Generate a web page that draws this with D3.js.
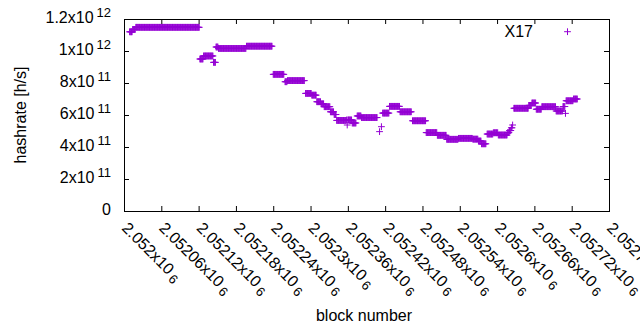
<!DOCTYPE html>
<html><head><meta charset="utf-8">
<script src="https://cdn.jsdelivr.net/npm/d3@7"></script>
<style>body{margin:0;background:#fff} text{font-family:"Liberation Sans",Arial,sans-serif;fill:#000}</style>
</head><body><svg id="c" width="640" height="330"></svg>
<script>
// runs of blocks sharing the same hashrate estimate
const runStart = [2052009,2052014,2052019,2052122,2052128,2052144,2052148,2052152,2052197,2052240,2052259,2052263,2052292,2052302,2052310,2052317,2052322,2052332,2052338,2052342,2052358,2052359,2052360,2052367,2052375,2052382,2052411,2052414,2052416,2052427,2052444,2052464,2052486,2052504,2052519,2052538,2052561,2052570,2052575,2052584,2052594,2052602,2052617,2052620,2052623,2052625,2052627,2052651,2052656,2052663,2052672,2052695,2052706,2052710,2052711,2052723];
const runEnd   = [2052013,2052018,2052121,2052127,2052143,2052147,2052151,2052196,2052238,2052257,2052262,2052290,2052301,2052309,2052316,2052321,2052331,2052337,2052341,2052357,2052358,2052359,2052366,2052373,2052381,2052407,2052411,2052414,2052426,2052443,2052462,2052485,2052503,2052518,2052537,2052560,2052569,2052574,2052582,2052593,2052601,2052616,2052619,2052622,2052624,2052625,2052650,2052655,2052662,2052671,2052694,2052705,2052709,2052710,2052722,2052729];
const runHashrate = [1.12e12,1.135e12,1.148e12,0.95e12,0.969e12,0.929e12,1.025e12,1.016e12,1.03e12,0.854e12,0.808e12,0.815e12,0.735e12,0.724e12,0.683e12,0.67e12,0.652e12,0.62e12,0.603e12,0.566e12,0.569e12,0.5375e12,0.569e12,0.55e12,0.594e12,0.584e12,0.496e12,0.527e12,0.612e12,0.654e12,0.62e12,0.564e12,0.49e12,0.473e12,0.448e12,0.454e12,0.449e12,0.4375e12,0.42e12,0.481e12,0.489e12,0.475e12,0.49e12,0.503e12,0.52e12,0.5375e12,0.642e12,0.66e12,0.675e12,0.636e12,0.652e12,0.625e12,0.653e12,0.61e12,0.689e12,0.7e12];
const seriesName = "X17";
const xTickValues = [2052000,2052060,2052120,2052180,2052240,2052300,2052360,2052420,2052480,2052540,2052600,2052660,2052720,2052780];
const xTickLabels = ["2.052x10^6","2.05206x10^6","2.05212x10^6","2.05218x10^6","2.05224x10^6","2.0523x10^6","2.05236x10^6","2.05242x10^6","2.05248x10^6","2.05254x10^6","2.0526x10^6","2.05266x10^6","2.05272x10^6","2.05278x10^6"];
const yTickValues = [0,2e11,4e11,6e11,8e11,1e12,1.2e12];
const yTickLabels = ["0","2x10^11","4x10^11","6x10^11","8x10^11","1x10^12","1.2x10^12"];

const svg = d3.select("#c");
const L=124,R=609,T=19,B=211, color="#9400d3", fs=16, sfs=13;
svg.append("rect").attr("width",640).attr("height",330).attr("fill","#fff");
const x = d3.scaleLinear().domain([2052000,2052780]).range([L,R]);
const y = d3.scaleLinear().domain([0,1.2e12]).range([B,T]);

// points
const pts=[];
runStart.forEach((s,i)=>{for(let b=s;b<=runEnd[i];b++) pts.push([b,runHashrate[i]]);});
const P=3.4;
const plus=(px,py)=>`M${px-P},${py}h${2*P}M${px},${py-P}v${2*P}`;
svg.append("path").attr("d",pts.map(d=>plus(x(d[0]),y(d[1]))).join(""))
  .attr("stroke",color).attr("fill","none").attr("stroke-width",1);

// axes (ticks inward, mirrored)
const ax = (g,axis)=>{g.call(axis); g.select(".domain").remove(); g.selectAll("line").attr("stroke","#000");};
svg.append("g").attr("transform",`translate(0,${B})`).call(g=>ax(g,d3.axisBottom(x).tickValues(xTickValues).tickSize(-5).tickFormat("")));
svg.append("g").attr("transform",`translate(0,${T})`).call(g=>ax(g,d3.axisTop(x).tickValues(xTickValues).tickSize(-5).tickFormat("")));
svg.append("g").attr("transform",`translate(${L},0)`).call(g=>ax(g,d3.axisLeft(y).tickValues(yTickValues).tickSize(-5).tickFormat("")));
svg.append("g").attr("transform",`translate(${R},0)`).call(g=>ax(g,d3.axisRight(y).tickValues(yTickValues).tickSize(-5).tickFormat("")));
svg.append("rect").attr("x",L+0.5).attr("y",T+0.5).attr("width",R-L).attr("height",B-T)
  .attr("fill","none").attr("stroke","#000").attr("stroke-width",1);

// y tick labels
yTickValues.forEach((v,i)=>{
  const [base,exp]=yTickLabels[i].split("^");
  const t=svg.append("text").attr("x",111).attr("y",y(v)).attr("dy","0.25em")
    .attr("text-anchor","end").attr("font-size",fs);
  t.append("tspan").text(base);
  if(exp) t.append("tspan").attr("dx",3).attr("dy",-6).attr("font-size",sfs).text(exp);
});
// x tick labels (rotated)
xTickValues.forEach((v,i)=>{
  const [base,exp]=xTickLabels[i].split("^");
  const t=svg.append("text").attr("transform",`translate(${x(v)+1},225) rotate(45)`)
    .attr("dy","0.35em").attr("font-size",fs);
  t.append("tspan").text(base);
  if(exp) t.append("tspan").attr("dx",3).attr("dy",3).attr("font-size",sfs).text(exp);
});
// axis titles
svg.append("text").attr("transform","translate(20,115) rotate(-90)").attr("text-anchor","middle")
  .attr("dy","0.35em").attr("font-size",fs).text("hashrate [h/s]");
svg.append("text").attr("x",364).attr("y",316).attr("text-anchor","middle")
  .attr("dy","0.3em").attr("font-size",fs).text("block number");
// legend
svg.append("text").attr("x",533).attr("y",31).attr("dy","0.35em").attr("text-anchor","end")
  .attr("font-size",fs).text(seriesName);
svg.append("path").attr("d",plus(567.5,31.7)).attr("stroke",color).attr("fill","none");
</script></body></html>
